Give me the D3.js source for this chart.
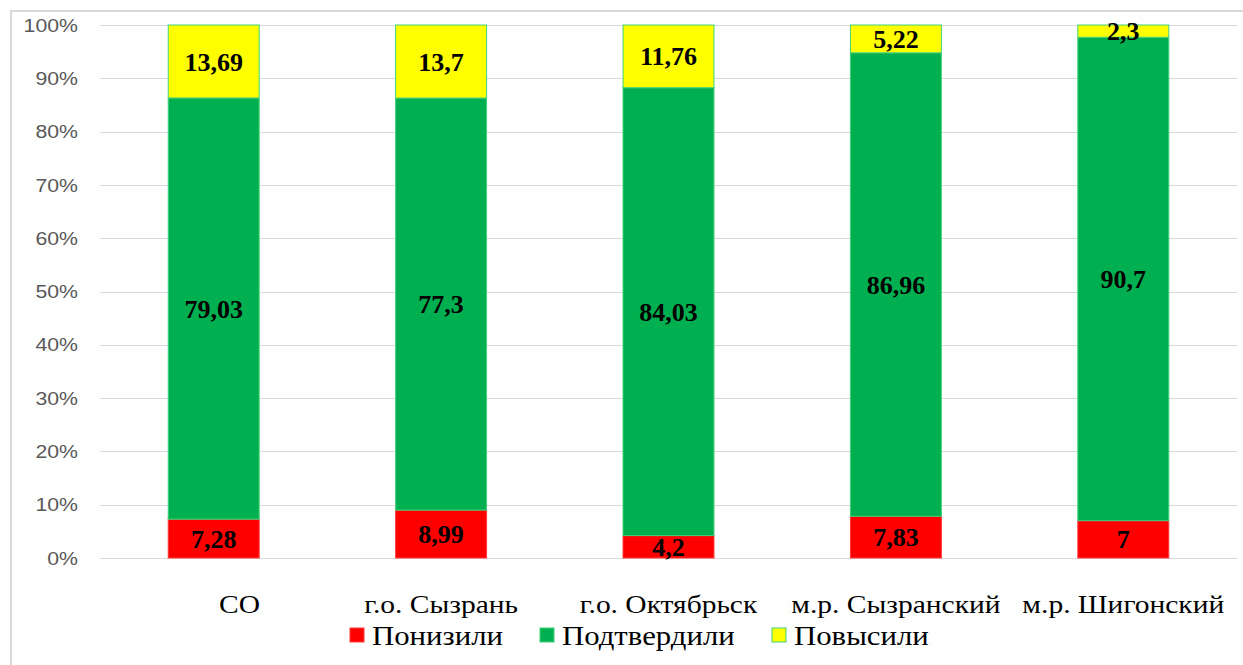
<!DOCTYPE html>
<html>
<head>
<meta charset="utf-8">
<script src="https://cdn.jsdelivr.net/npm/d3@7"></script>
<style>
  html, body { margin: 0; padding: 0; background: #fff; }
  svg { display: block; }
</style>
</head>
<body>
<svg id="chart" width="1243" height="665"></svg>
<script>
// Categories (territories) and shares of each result, in percent
const categories = ["\u00a0\u00a0\u00a0\u00a0\u00a0\u00a0\u00a0СО", "г.о. Сызрань", "г.о. Октябрьск", "м.р. Сызранский", "м.р. Шигонский"];
const lowered   = [7.28, 8.99, 4.2, 7.83, 7];
const confirmed = [79.03, 77.3, 84.03, 86.96, 90.7];
const raised    = [13.69, 13.7, 11.76, 5.22, 2.3];
const seriesNames = ["Понизили", "Подтвердили", "Повысили"];
const seriesColors = ["#ff0000", "#00b050", "#ffff00"];
const seriesStrokes = ["#ff3b3b", "#3fd17a", "#3fd17a"];
const yTicks = [0, 0.1, 0.2, 0.3, 0.4, 0.5, 0.6, 0.7, 0.8, 0.9, 1];

const svg = d3.select("#chart");
const W = 1243, H = 665;
const serif = "'Liberation Serif', 'Times New Roman', serif";

// outer chart frame
svg.append("rect")
  .attr("x", 11).attr("y", 11)
  .attr("width", W + 10).attr("height", H + 10)
  .attr("fill", "none").attr("stroke", "#d9d9d9").attr("stroke-width", 2);

const plot = { left: 100, right: 1237, top: 25, bottom: 558 };

const rows = categories.map((c, i) => ({
  cat: c, i,
  "Понизили": lowered[i], "Подтвердили": confirmed[i], "Повысили": raised[i]
}));

const stacked = d3.stack().keys(seriesNames).offset(d3.stackOffsetExpand)(rows);

const x = d3.scaleBand()
  .domain(categories)
  .range([plot.left, plot.right])
  .paddingInner(0.6).paddingOuter(0.3);

const y = d3.scaleLinear().domain([0, 1]).range([plot.bottom, plot.top]);

// gridlines
svg.append("g").selectAll("line").data(yTicks).join("line")
  .attr("x1", plot.left).attr("x2", plot.right)
  .attr("y1", d => Math.round(y(d)) + 0.5).attr("y2", d => Math.round(y(d)) + 0.5)
  .attr("stroke", "#d9d9d9").attr("stroke-width", 1);

// y axis labels (slightly wide glyphs)
const pct = d3.format(".0%");
svg.append("g").selectAll("text").data(yTicks).join("text")
  .attr("transform", d => `translate(78,${y(d)}) scale(1.12,1)`)
  .attr("dy", "0.35em")
  .attr("text-anchor", "end")
  .attr("font-family", "'Liberation Sans', Arial, sans-serif")
  .attr("font-size", 19).attr("fill", "#595959")
  .text(pct);

// bars
const layers = svg.append("g").selectAll("g").data(stacked).join("g")
  .attr("fill", (d, k) => seriesColors[k])
  .attr("stroke", (d, k) => seriesStrokes[k]);

layers.selectAll("rect").data(d => d).join("rect")
  .attr("x", d => x(d.data.cat))
  .attr("width", x.bandwidth())
  .attr("y", d => y(d[1]))
  .attr("height", d => y(d[0]) - y(d[1]))
  .attr("stroke-width", 1);

// value labels
const valueFmt = v => String(v).replace(".", ",");
svg.append("g").selectAll("g").data(stacked).join("g")
  .each(function(layer) {
    d3.select(this).selectAll("text").data(layer).join("text")
      .attr("x", d => x(d.data.cat) + x.bandwidth() / 2)
      .attr("y", d => (y(d[0]) + y(d[1])) / 2)
      .attr("dy", "0.35em")
      .attr("text-anchor", "middle")
      .attr("font-family", serif)
      .attr("font-weight", "bold")
      .attr("font-size", 26)
      .attr("fill", "#000")
      .text(d => valueFmt(d.data[layer.key]));
  });

// category labels
svg.append("g").selectAll("text").data(categories).join("text")
  .attr("transform", d => `translate(${x(d) + x.bandwidth() / 2},613) scale(1.18,1)`)
  .attr("text-anchor", "middle")
  .attr("font-family", serif)
  .attr("font-size", 25)
  .attr("fill", "#000")
  .text(d => d);

// legend
const legendX = [350, 540, 772];
const lg = svg.append("g").selectAll("g").data(seriesNames).join("g")
  .attr("transform", (d, k) => `translate(${legendX[k]},628)`);
lg.append("rect")
  .attr("width", 14).attr("height", 14)
  .attr("fill", (d, k) => seriesColors[k])
  .attr("stroke", (d, k) => seriesStrokes[k]).attr("stroke-width", 1);
lg.append("text")
  .attr("transform", "translate(22,17) scale(1.14,1)")
  .attr("font-family", serif)
  .attr("font-size", 27)
  .attr("fill", "#000")
  .text(d => d);
</script>
</body>
</html>
